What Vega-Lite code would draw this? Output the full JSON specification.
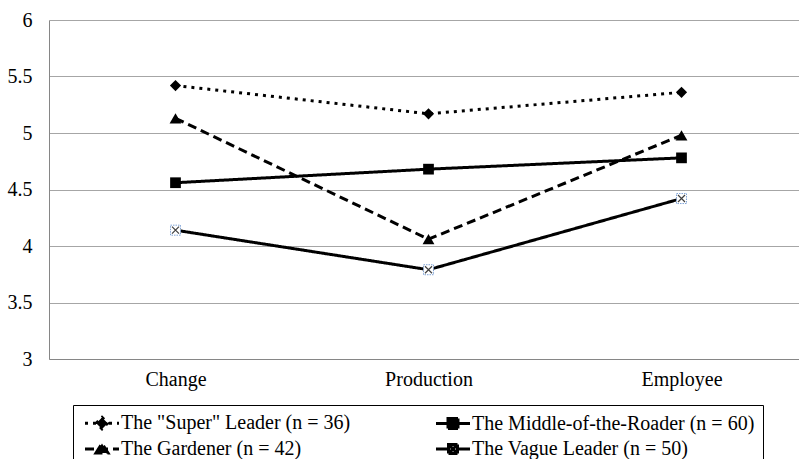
{
  "$schema": "https://vega.github.io/schema/vega-lite/v6.json",
  "width": 759,
  "height": 339,
  "padding": {"left": 7, "top": 10, "right": 0, "bottom": 0},
  "background": "white",
  "config": {"view": {"stroke": null}, "font": "Liberation Serif"},
  "data": {
    "values": [
      {"series": "The \"Super\" Leader (n = 36)", "category": "Change", "value": 5.42},
      {"series": "The \"Super\" Leader (n = 36)", "category": "Production", "value": 5.17},
      {"series": "The \"Super\" Leader (n = 36)", "category": "Employee", "value": 5.36},
      {"series": "The Middle-of-the-Roader (n = 60)", "category": "Change", "value": 4.56},
      {"series": "The Middle-of-the-Roader (n = 60)", "category": "Production", "value": 4.68},
      {"series": "The Middle-of-the-Roader (n = 60)", "category": "Employee", "value": 4.78},
      {"series": "The Gardener (n = 42)", "category": "Change", "value": 5.13},
      {"series": "The Gardener (n = 42)", "category": "Production", "value": 4.06},
      {"series": "The Gardener (n = 42)", "category": "Employee", "value": 4.98},
      {"series": "The Vague Leader (n = 50)", "category": "Change", "value": 4.14},
      {"series": "The Vague Leader (n = 50)", "category": "Production", "value": 3.79},
      {"series": "The Vague Leader (n = 50)", "category": "Employee", "value": 4.42}
    ]
  },
  "encoding": {
    "x": {
      "field": "category",
      "type": "nominal",
      "sort": ["Change", "Production", "Employee"],
      "scale": {"type": "point", "padding": 0.5},
      "axis": {
        "title": null,
        "labelAngle": 0,
        "labelFont": "Liberation Serif",
        "labelFontSize": 20,
        "labelColor": "black",
        "labelPadding": 10,
        "ticks": false,
        "tickSize": 0,
        "domainColor": "#868686",
        "domainWidth": 1,
        "grid": false
      }
    },
    "y": {
      "field": "value",
      "type": "quantitative",
      "scale": {"domain": [3, 6], "nice": false, "zero": false},
      "axis": {
        "title": null,
        "values": [3, 3.5, 4, 4.5, 5, 5.5, 6],
        "format": "~g",
        "labelFont": "Liberation Serif",
        "labelFontSize": 20,
        "labelColor": "black",
        "labelPadding": 17,
        "ticks": false,
        "tickSize": 0,
        "domainColor": "#868686",
        "grid": true,
        "gridColor": "#a6a6a6",
        "gridWidth": 1
      }
    }
  },
  "layer": [
    {
      "mark": {"type": "line", "color": "black", "strokeWidth": 3, "strokeCap": "butt"},
      "encoding": {
        "strokeDash": {
          "field": "series",
          "type": "nominal",
          "scale": {
            "domain": ["The \"Super\" Leader (n = 36)", "The Gardener (n = 42)", "The Middle-of-the-Roader (n = 60)", "The Vague Leader (n = 50)"],
            "range": [[3, 5], [9, 5], [1, 0], [1, 0]]
          }
        }
      }
    },
    {
      "transform": [{"filter": "indexof(datum.series,'Super')>=0"}],
      "mark": {"type": "point", "shape": "diamond", "size": 125, "filled": true, "color": "black", "opacity": 1, "strokeWidth": 1}
    },
    {
      "transform": [{"filter": "indexof(datum.series,'Gardener')>=0"}],
      "mark": {"type": "point", "shape": "triangle-up", "size": 140, "filled": true, "color": "black", "opacity": 1, "strokeWidth": 1}
    },
    {
      "transform": [{"filter": "indexof(datum.series,'Middle')>=0"}],
      "mark": {"type": "point", "shape": "square", "size": 115, "filled": true, "color": "black", "opacity": 1, "strokeWidth": 1}
    },
    {
      "transform": [{"filter": "indexof(datum.series,'Vague')>=0"}],
      "mark": {"type": "point", "shape": "square", "size": 100, "filled": true, "fill": "white", "stroke": "#7fa3d6", "strokeDash": [1.5, 1], "opacity": 1, "strokeWidth": 1}
    },
    {
      "transform": [{"filter": "indexof(datum.series,'Vague')>=0"}],
      "mark": {
        "type": "point",
        "shape": "M-0.7,-0.7L0.7,0.7M-0.7,0.7L0.7,-0.7",
        "size": 100,
        "filled": false,
        "stroke": "#404040",
        "strokeWidth": 1.2,
        "opacity": 1
      }
    },
    {
      "transform": [{"filter": "false"}],
      "mark": {"type": "point", "filled": true, "opacity": 1},
      "encoding": {
        "shape": {
          "field": "series",
          "type": "nominal",
          "scale": {
            "domain": ["The \"Super\" Leader (n = 36)", "The Gardener (n = 42)", "The Middle-of-the-Roader (n = 60)", "The Vague Leader (n = 50)"],
            "range": [
              "M-3.4,0H3.4M-1.15,0L0,-1.15L1.15,0L0,1.15Z",
              "M-3.4,0H3.4M-1.2,0.8L0,-1.1L1.2,0.8Z",
              "M-3.4,0H3.4M-1,-1H1V1H-1Z",
              "M-3.4,0H-0.9M0.9,0H3.4M-0.9,-0.9H0.9V0.9H-0.9ZM-0.6,-0.6L0.6,0.6M-0.6,0.6L0.6,-0.6"
            ]
          },
          "legend": {
            "orient": "none",
            "legendX": 24,
            "legendY": 385,
            "columns": 2,
            "title": null,
            "labelFont": "Liberation Serif",
            "labelFontSize": 20,
            "labelColor": "black",
            "labelLimit": 600,
            "symbolSize": 100,
            "symbolOffset": 11,
            "labelOffset": 9,
            "columnPadding": 79,
            "rowPadding": 2,
            "padding": 8,
            "strokeColor": "black",
            "fillColor": "white",
            "cornerRadius": 0
          }
        },
        "fill": {
          "field": "series",
          "type": "nominal",
          "scale": {
            "domain": ["The \"Super\" Leader (n = 36)", "The Gardener (n = 42)", "The Middle-of-the-Roader (n = 60)", "The Vague Leader (n = 50)"],
            "range": ["black", "black", "black", "white"]
          }
        },
        "stroke": {
          "field": "series",
          "type": "nominal",
          "scale": {
            "domain": ["The \"Super\" Leader (n = 36)", "The Gardener (n = 42)", "The Middle-of-the-Roader (n = 60)", "The Vague Leader (n = 50)"],
            "range": ["black", "black", "black", "black"]
          }
        },
        "strokeWidth": {
          "field": "series",
          "type": "nominal",
          "scale": {
            "domain": ["The \"Super\" Leader (n = 36)", "The Gardener (n = 42)", "The Middle-of-the-Roader (n = 60)", "The Vague Leader (n = 50)"],
            "range": [3, 3, 3, 2]
          }
        }
      }
    }
  ]
}
